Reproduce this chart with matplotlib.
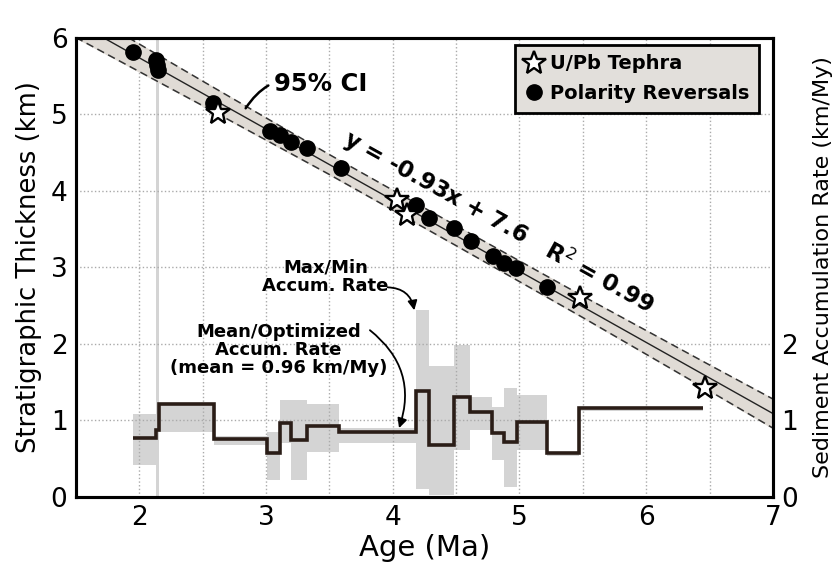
import matplotlib.pyplot as plt
import numpy as np

# polarity reversals (age Ma, thickness km)
rev_age = [1.95, 2.13, 2.14, 2.15, 2.58, 3.03, 3.11, 3.20, 3.32, 3.59,
           4.18, 4.29, 4.48, 4.62, 4.79, 4.88, 4.97, 5.22]
rev_thick = [5.82, 5.71, 5.64, 5.58, 5.15, 4.78, 4.73, 4.64, 4.56, 4.30,
             3.81, 3.64, 3.51, 3.34, 3.15, 3.06, 2.99, 2.75]

# U/Pb tephra
teph_age = [2.62, 4.03, 4.11, 5.48, 6.46]
teph_thick = [5.02, 3.88, 3.69, 2.60, 1.42]

# regression y = -0.93x + 7.6 and its 95% CI half-width
slope, intercept = -0.93, 7.6
fit_age = np.array([1.5, 7.0])
ci_age = np.array([1.5, 2.5, 3.5, 4.5, 5.5, 6.5, 7.0])
ci_half = np.array([0.20, 0.16, 0.13, 0.13, 0.14, 0.17, 0.19])

# accumulation rate (km/My): interval edges, mean, min, max
rate_edges = [1.95, 2.13, 2.155, 2.59, 3.01, 3.11, 3.20, 3.32, 3.58, 4.18,
              4.29, 4.48, 4.61, 4.78, 4.88, 4.98, 5.22, 5.47, 6.45]
rate_mean = [0.77, 0.88, 1.22, 0.76, 0.58, 0.97, 0.745, 0.93, 0.85, 1.38,
             0.68, 1.31, 1.11, 0.84, 0.715, 0.976, 0.57, 1.16]
rate_min = [0.42, 0.0, 0.85, 0.68, 0.22, 0.70, 0.22, 0.59, 0.70, 0.11,
            0.02, 0.61, 0.88, 0.48, 0.135, 0.61, 0.53, 1.12]
rate_max = [1.09, 6.0, 1.23, 0.80, 0.85, 1.27, 1.27, 1.22, 0.90, 2.44,
            1.71, 1.99, 1.31, 1.18, 1.43, 1.33, 0.59, 1.18]

fig = plt.figure(figsize=(8.33, 5.79), dpi=100)
ax = fig.add_axes([0.091, 0.1416, 0.837, 0.793])

# max/min range boxes
edges = np.array(rate_edges)
ax.bar(edges[:-1], np.array(rate_max) - np.array(rate_min), bottom=rate_min,
       width=np.diff(edges), align='edge', color='#d4d4d4', linewidth=0, zorder=0.2)

# CI band and fit line
ci_mid = slope * ci_age + intercept
ax.fill_between(ci_age, ci_mid - ci_half, ci_mid + ci_half, color='#e0dbd5', zorder=1)
ax.plot(ci_age, ci_mid + ci_half, color='#333333', ls=(0, (5, 3)), lw=1.1, zorder=1.2)
ax.plot(ci_age, ci_mid - ci_half, color='#333333', ls=(0, (5, 3)), lw=1.1, zorder=1.2)
ax.plot(fit_age, slope * fit_age + intercept, color='#222222', lw=1.0, zorder=1.3)

# mean rate step line
ax.stairs(rate_mean, rate_edges, baseline=None, color='#2a1d17', lw=2.6, zorder=3)

ax.plot(rev_age, rev_thick, 'o', color='black', ms=11, zorder=4, label='Polarity Reversals')
ax.plot(teph_age, teph_thick, '*', mfc='white', mec='black', mew=1.7, ms=18, zorder=5,
        label='U/Pb Tephra')

ax.set_xlim(1.5, 7)
ax.set_ylim(0, 6)
ax.set_xticks([2, 3, 4, 5, 6, 7])
ax.set_xticks(np.arange(2, 7, 0.5), minor=True)
ax.set_yticks([0, 1, 2, 3, 4, 5, 6])
ax.set_axisbelow(True)
ax.grid(True, which='both', axis='x', color='#aaaaaa', ls=':', lw=1.0)
ax.grid(True, which='major', axis='y', color='#aaaaaa', ls=':', lw=1.0)
ax.tick_params(which='both', length=0, labelsize=19, pad=6)
for s in ax.spines.values():
    s.set_linewidth(2.2)

ax.set_xlabel('Age (Ma)', fontsize=21, labelpad=2)
ax.set_ylabel('Stratigraphic Thickness (km)', fontsize=18.5, labelpad=6)

ax2 = ax.twinx()
ax2.set_ylim(0, 6)
ax2.set_yticks([0, 1, 2])
ax2.tick_params(length=0, labelsize=19, pad=6)
ax2.set_ylabel('Sediment Accumulation Rate (km/My)', fontsize=16, rotation=90)
ax2.yaxis.set_label_coords(1.058, 0.5)
for s in ax2.spines.values():
    s.set_linewidth(2.2)

handles, labels = ax.get_legend_handles_labels()
leg = ax.legend(handles[::-1], labels[::-1], loc='upper right', bbox_to_anchor=(0.98, 0.985),
                borderaxespad=0, fancybox=False, edgecolor='black', facecolor='#e2dfdb',
                framealpha=1, handletextpad=0.3, handlelength=1.0, labelspacing=0.55,
                borderpad=0.5, prop={'weight': 'bold', 'size': 14})
leg.get_frame().set_linewidth(2)
leg.set_zorder(10)

# annotations
ax.annotate('95% CI', xy=(2.84, 5.08), xytext=(3.06, 5.40), fontsize=17.5, fontweight='bold',
            ha='left', va='center',
            arrowprops=dict(arrowstyle='-', lw=1.8, color='black',
                            connectionstyle='arc3,rad=0.4', shrinkA=2, shrinkB=0))
ax.text(4.84, 3.60, 'y = -0.93x + 7.6   R$^2$ = 0.99', fontsize=16.5, fontweight='bold',
        rotation=-29, rotation_mode='anchor', ha='center', va='center')

ax.text(3.47, 2.88, 'Max/Min\nAccum. Rate', fontsize=13, fontweight='bold',
        ha='center', va='center', linespacing=1.0)
ax.annotate('', xy=(4.17, 2.44), xytext=(3.96, 2.74),
            arrowprops=dict(arrowstyle='-|>', lw=1.3, color='black', mutation_scale=14,
                            connectionstyle='arc3,rad=-0.4', shrinkA=0, shrinkB=0))
ax.text(3.10, 1.92, 'Mean/Optimized\nAccum. Rate\n(mean = 0.96 km/My)', fontsize=13,
        fontweight='bold', ha='center', va='center', linespacing=1.0)
ax.annotate('', xy=(4.05, 0.90), xytext=(3.82, 2.18),
            arrowprops=dict(arrowstyle='-|>', lw=1.3, color='black', mutation_scale=14,
                            connectionstyle='arc3,rad=-0.35', shrinkA=0, shrinkB=0))

fig.savefig('out.png', dpi=100)
